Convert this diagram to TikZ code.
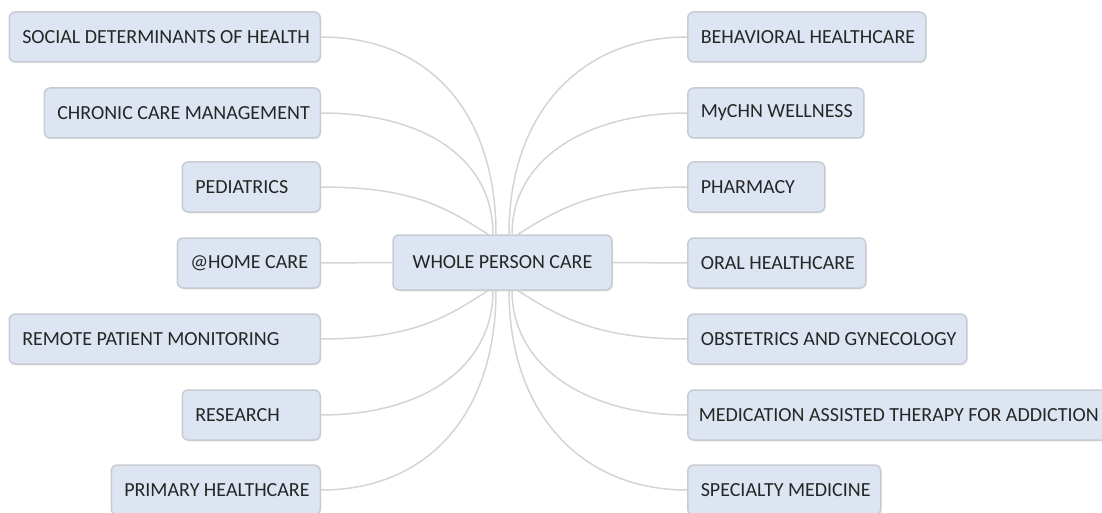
\documentclass[tikz,border=0pt]{standalone}
\usepackage{fontspec}
\setmainfont{Carlito}
\usetikzlibrary{shadows}
\definecolor{boxfill}{RGB}{220,229,241}
\definecolor{boxline}{RGB}{200,204,210}
\definecolor{linkc}{RGB}{212,212,212}
\definecolor{txt}{RGB}{38,38,38}
\newcommand\bt[2]{\makebox[#1pt][l]{#2}}
\tikzset{
  bx/.style={draw=boxline, fill=boxfill, line width=1.5pt, rounded corners=6pt,
    minimum height=50pt, inner xsep=13pt, inner ysep=0pt, text=txt,
    font=\fontsize{20}{24}\selectfont,
    drop shadow={opacity=0.12, shadow xshift=1pt, shadow yshift=-1.5pt}},
  link/.style={draw=linkc, line width=1.5pt}
}
\begin{document}
\begin{tikzpicture}[x=1pt,y=-1pt]
\useasboundingbox (0,0) rectangle (1102,513);
% left column
\node[bx, anchor=east] (L1) at (321,37)  {\bt{285}{SOCIAL DETERMINANTS OF HEALTH}};
\node[bx, anchor=east] (L2) at (321,113) {\bt{250}{CHRONIC CARE MANAGEMENT}};
\node[bx, anchor=east] (L3) at (321,187) {\bt{112}{PEDIATRICS}};
\node[bx, anchor=east] (L4) at (321,263) {\bt{117}{@HOME CARE}};
\node[bx, anchor=east] (L5) at (321,339) {\bt{285}{REMOTE PATIENT MONITORING}};
\node[bx, anchor=east] (L6) at (321,415) {\bt{112}{RESEARCH}};
\node[bx, anchor=east] (L7) at (321,490) {\bt{183}{PRIMARY HEALTHCARE}};
% right column
\node[bx, anchor=west] (R1) at (687,37)  {\bt{212}{BEHAVIORAL HEALTHCARE}};
\node[bx, anchor=west] (R2) at (687,113) {\bt{150}{MyCHN WELLNESS}};
\node[bx, anchor=west] (R3) at (687,187) {\bt{111}{PHARMACY}};
\node[bx, anchor=west] (R4) at (687,263) {\bt{152}{ORAL HEALTHCARE}};
\node[bx, anchor=west] (R5) at (687,339) {\bt{253}{OBSTETRICS AND GYNECOLOGY}};
\node[bx, anchor=west, inner xsep=11pt] (R6) at (687,415) {\bt{398}{MEDICATION ASSISTED THERAPY FOR ADDICTION}};
\node[bx, anchor=west] (R7) at (687,490) {\bt{167}{SPECIALTY MEDICINE}};
% center
\node[bx, minimum width=219pt, minimum height=55pt] (C) at (502.5,262.5) {WHOLE PERSON CARE};
% attachment points on the center box
\coordinate (Ct1) at ([xshift=-6.5pt]C.north);
\coordinate (Ct2) at ([xshift=-9.5pt]C.north);
\coordinate (Ct3) at ([xshift=-14.5pt]C.north);
\coordinate (Cr1) at ([xshift=6.5pt]C.north);
\coordinate (Cr2) at ([xshift=9.5pt]C.north);
\coordinate (Cr3) at ([xshift=15.5pt]C.north);
\coordinate (Cb1) at ([xshift=-6.5pt]C.south);
\coordinate (Cb2) at ([xshift=-9.5pt]C.south);
\coordinate (Cb3) at ([xshift=-14.5pt]C.south);
\coordinate (Cs1) at ([xshift=6.5pt]C.south);
\coordinate (Cs2) at ([xshift=9.5pt]C.south);
\coordinate (Cs3) at ([xshift=15.5pt]C.south);
% connectors left
\draw[link] (L1.east) .. controls +(108,0) and +(0,-122) .. (Ct1);
\draw[link] (L2.east) .. controls +(104,0) and +(0,-75) .. (Ct2);
\draw[link] (L3.east) .. controls +(95,0) and +(-40,-25) .. (Ct3);
\draw[link] (L4.east) -- (C.west);
\draw[link] (L5.east) .. controls +(95,0) and +(-40,25) .. (Cb3);
\draw[link] (L6.east) .. controls +(104,0) and +(0,75) .. (Cb2);
\draw[link] (L7.east) .. controls +(108,0) and +(0,122) .. (Cb1);
% connectors right
\draw[link] (R1.west) .. controls +(-106,0) and +(0,-122) .. (Cr1);
\draw[link] (R2.west) .. controls +(-101,0) and +(0,-75) .. (Cr2);
\draw[link] (R3.west) .. controls +(-92,0) and +(40,-25) .. (Cr3);
\draw[link] (R4.west) -- (C.east);
\draw[link] (R5.west) .. controls +(-92,0) and +(40,25) .. (Cs3);
\draw[link] (R6.west) .. controls +(-101,0) and +(0,75) .. (Cs2);
\draw[link] (R7.west) .. controls +(-106,0) and +(0,122) .. (Cs1);
\end{tikzpicture}
\end{document}
